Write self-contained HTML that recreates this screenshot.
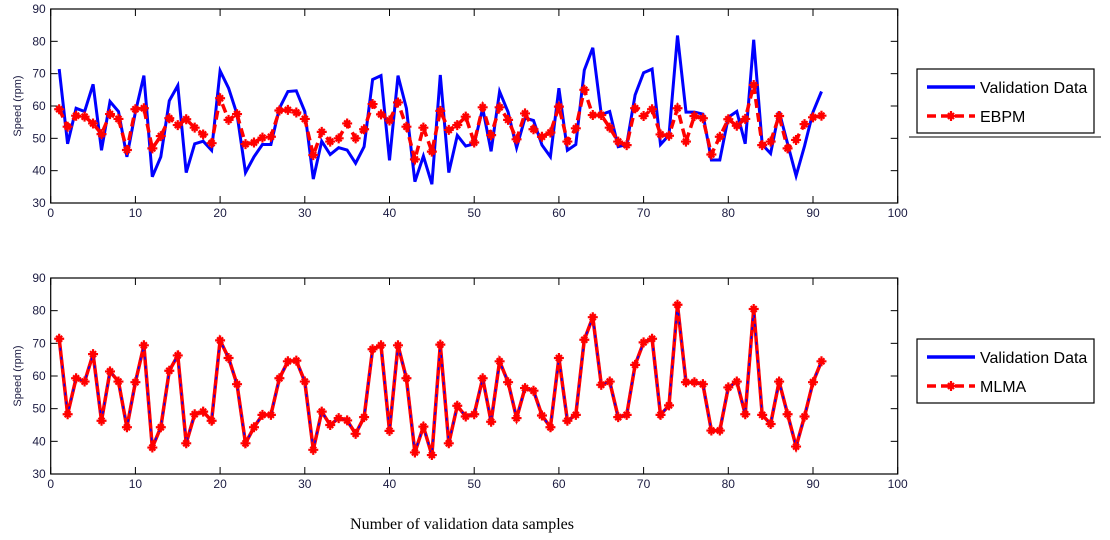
<!DOCTYPE html>
<html><head><meta charset="utf-8"><style>
html,body{margin:0;padding:0;background:#fff;}
svg{display:block;font-family:"Liberation Sans",Arial,sans-serif;}
</style></head><body>
<svg id="c" width="1110" height="540" xmlns="http://www.w3.org/2000/svg"></svg>
<script>
const xTicks=[0,10,20,30,40,50,60,70,80,90,100];
const yTicks=[30,40,50,60,70,80,90];
const validation=[71.4,48.3,59.3,58.3,66.7,46.3,61.4,58.3,44.3,58.1,69.4,38.1,44.3,61.6,66.3,39.4,48.3,49.1,46.3,70.9,65.5,57.5,39.4,44.3,48.1,48.1,59.3,64.5,64.7,58.3,37.4,49.1,45,47.1,46.4,42.3,47.4,68.2,69.4,43.2,69.4,59.3,36.6,44.5,35.8,69.6,39.4,50.9,47.6,48.3,59.3,46,64.5,58.1,47.1,56.3,55.5,47.9,44.3,65.5,46.3,48.1,71.1,78,57.3,58.3,47.4,48.1,63.4,70.3,71.4,48.1,51,81.8,58.1,58.1,57.5,43.3,43.3,56.5,58.3,48.3,80.5,48.1,45.3,58.3,48.3,38.4,47.6,58.1,64.5];
const ebpm=[59,53.6,57,56.7,54.6,51.3,57.5,56,46.4,59,59.3,46.9,50.7,56.2,54.1,55.9,53.3,51.2,48.5,62.4,55.7,57.5,48.2,48.7,50.2,50.5,58.6,58.8,58,56,44.8,52,49,50,54.6,50,52.8,60.6,57.4,55.5,61.1,53.6,43.5,53.3,45.9,58.5,52.6,54.1,56.7,48.7,59.6,51,59.6,55.7,49.7,57.7,52.8,50.5,51.8,59.8,49,53.1,65,57.2,57.2,53.3,49,47.9,59.3,56.9,59,51.2,50.8,59.3,49,56.9,56.2,45,50.5,55.9,53.9,56,66.5,47.9,49,56.9,46.9,49.5,54.4,56.5,57];
const mlma=validation.slice();
const NS="http://www.w3.org/2000/svg";
const svg=document.getElementById('c');
function mk(tag,attrs,parent){const e=document.createElementNS(NS,tag);for(const k in attrs)e.setAttribute(k,attrs[k]);(parent||svg).appendChild(e);return e;}
function star(g,x,y){
  const p=mk('path',{d:`M${x-5} ${y}H${x+5}M${x} ${y-5}V${y+5}M${x-3} ${y-3}L${x+3} ${y+3}M${x-3} ${y+3}L${x+3} ${y-3}`,stroke:'#ff0000','stroke-width':2.2,fill:'none'},g);
  
  
}
function panel(name,top,bottom,series2,label2,dashed2,legTop,extraLine){
  const L=50.7,R=897.7;
  const sx=v=>L+(v-0)/(100)*(R-L);
  const sy=v=>bottom-(v-30)/60*(bottom-top);
  const g=mk('g',{});
  
  
  const fr=mk('rect',{x:L,y:top,width:R-L,height:bottom-top,fill:'#fff',stroke:'#000','stroke-width':1.2},g);
  
  
  xTicks.forEach(t=>{
    const x=sx(t);
    mk('line',{x1:x,y1:bottom,x2:x,y2:bottom-7,stroke:'#000'},g);
    mk('line',{x1:x,y1:top,x2:x,y2:top+7,stroke:'#000'},g);
    const tx=mk('text',{x:x,y:bottom+14,'font-size':12,'text-anchor':'middle',fill:'#1a1a40'},g);
    tx.textContent=t;
    
    
  });
  yTicks.forEach(t=>{
    const y=sy(t);
    mk('line',{x1:L,y1:y,x2:L+7,y2:y,stroke:'#000'},g);
    mk('line',{x1:R,y1:y,x2:R-7,y2:y,stroke:'#000'},g);
    const tx=mk('text',{x:L-5,y:y+4,'font-size':12,'text-anchor':'end',fill:'#1a1a40'},g);
    tx.textContent=t;
    
    
  });
  const yl=mk('text',{x:0,y:0,'font-size':11,'text-anchor':'middle',fill:'#1a1a40',transform:`translate(21,${(top+bottom)/2}) rotate(-90)`},g);
  yl.textContent='Speed (rpm)';
  
  
  const pv=validation.map((v,i)=>`${sx(i+1).toFixed(1)},${sy(v).toFixed(1)}`).join(' ');
  const l1=mk('polyline',{points:pv,fill:'none',stroke:'#0000ff','stroke-width':3,'stroke-linejoin':'miter'},g);
  
  
  const p2=series2.map((v,i)=>`${sx(i+1).toFixed(1)},${sy(v).toFixed(1)}`).join(' ');
  const l2=mk('polyline',{points:p2,fill:'none',stroke:'#ff0000','stroke-width':3.5,'stroke-dasharray':dashed2?'9,5':'none'},g);
  
  
  if(!dashed2){mk('polyline',{points:p2,fill:'none',stroke:'#0000ff','stroke-width':1.5,'stroke-dasharray':'3,6'},g);}
  series2.forEach((v,i)=>star(g,sx(i+1),sy(v)));
  // legend
  const lg=mk('g',{},g);
  
  
  mk('rect',{x:917,y:legTop,width:177,height:64,fill:'#fff',stroke:'#000','stroke-width':1.2},lg);
  mk('line',{x1:927,y1:legTop+18,x2:975,y2:legTop+18,stroke:'#0000ff','stroke-width':3.5},lg);
  const t1=mk('text',{x:980,y:legTop+24,'font-size':16,fill:'#000'},lg);
  t1.textContent='Validation Data';
  
  
  mk('line',{x1:927,y1:legTop+47,x2:975,y2:legTop+47,stroke:'#ff0000','stroke-width':3.5,'stroke-dasharray':'9,5'},lg);
  star(lg,951,legTop+47);
  const t2=mk('text',{x:980,y:legTop+53,'font-size':16,fill:'#000'},lg);
  t2.textContent=label2;
  
  
  if(extraLine){mk('line',{x1:909,y1:legTop+68,x2:1101,y2:legTop+68,stroke:'#000','stroke-width':1},lg);}
}
panel('top-panel',9,203,ebpm,'EBPM',true,69,true);
panel('bottom-panel',278,474,mlma,'MLMA',false,339,false);
const xt=mk('text',{x:462,y:529,'font-size':16,'text-anchor':'middle',fill:'#000','font-family':'"Liberation Serif",serif'});
xt.textContent='Number of validation data samples';


</script>
</body></html>
